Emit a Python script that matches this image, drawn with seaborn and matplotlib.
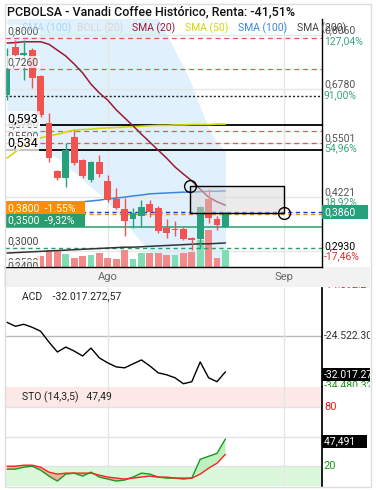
import numpy as np
import pandas as pd
import matplotlib
matplotlib.use("Agg")
import matplotlib.pyplot as plt
import seaborn as sns
from matplotlib.patches import Rectangle
from matplotlib.transforms import offset_copy

# ---------------- data ----------------
opens  = [0.664, 0.779, 0.760, 0.771, 0.710, 0.598, 0.483, 0.467, 0.564, 0.510, 0.462, 0.505, 0.460, 0.417,
          0.393, 0.369, 0.376, 0.405, 0.395, 0.348, 0.345, 0.345, 0.324, 0.321, 0.417, 0.369, 0.350]
highs  = [0.776, 0.795, 0.795, 0.775, 0.712, 0.621, 0.486, 0.550, 0.581, 0.512, 0.507, 0.521, 0.474, 0.443,
          0.419, 0.395, 0.414, 0.414, 0.400, 0.369, 0.364, 0.350, 0.326, 0.400, 0.441, 0.376, 0.386]
lows   = [0.652, 0.758, 0.700, 0.681, 0.612, 0.505, 0.462, 0.445, 0.498, 0.466, 0.457, 0.470, 0.410, 0.393,
          0.329, 0.348, 0.350, 0.374, 0.336, 0.324, 0.329, 0.319, 0.295, 0.300, 0.360, 0.343, 0.350]
closes = [0.724, 0.760, 0.764, 0.705, 0.617, 0.514, 0.467, 0.533, 0.502, 0.471, 0.505, 0.476, 0.414, 0.395,
          0.364, 0.383, 0.398, 0.386, 0.340, 0.336, 0.344, 0.321, 0.320, 0.398, 0.372, 0.355, 0.386]
volume = [80000, 60000, 70000, 60000, 110000, 170000, 170000, 130000, 90000, 110000, 120000, 140000, 90000,
          80000, 170000, 80000, 140000, 140000, 140000, 120000, 120000, 140000, 150000, 270000, 370000,
          90000, 170000]
volume_up = [1, 0, 1, 0, 0, 0, 0, 1, 0, 0, 1, 0, 0, 0, 0, 1, 1, 0, 0, 0, 1, 0, 0, 1, 0, 0, 1]

sma20  = [0.788, 0.789, 0.791, 0.791, 0.791, 0.785, 0.771, 0.757, 0.738, 0.717, 0.690, 0.669, 0.652, 0.629,
          0.610, 0.591, 0.571, 0.552, 0.533, 0.514, 0.493, 0.476, 0.460, 0.440, 0.421, 0.410, 0.402]
sma50  = [0.514, 0.529, 0.543, 0.552, 0.562, 0.567, 0.571, 0.576, 0.581, 0.582, 0.583, 0.585, 0.586, 0.587,
          0.588, 0.589, 0.590, 0.591, 0.592, 0.592, 0.593, 0.593, 0.594, 0.594, 0.594, 0.595, 0.595]
sma100 = [0.395, 0.396, 0.398, 0.399, 0.400, 0.402, 0.405, 0.407, 0.408, 0.410, 0.412, 0.414, 0.417, 0.419,
          0.421, 0.424, 0.426, 0.429, 0.430, 0.431, 0.432, 0.433, 0.433, 0.434, 0.435, 0.435, 0.436]
sma200 = [0.288, 0.289, 0.290, 0.291, 0.292, 0.293, 0.294, 0.295, 0.296, 0.297, 0.298, 0.299, 0.300, 0.301,
          0.302, 0.302, 0.303, 0.304, 0.305, 0.306, 0.307, 0.308, 0.309, 0.310, 0.310, 0.311, 0.312]
boll_upper = [0.93, 0.93, 0.93, 0.93, 0.93, 0.93, 0.93, 0.93, 0.93, 0.93, 0.93, 0.93, 0.93, 0.925,
              0.92, 0.91, 0.895, 0.875, 0.845, 0.81, 0.77, 0.731, 0.688, 0.636, 0.585, 0.550, 0.533]
boll_lower = [0.557, 0.552, 0.548, 0.543, 0.533, 0.526, 0.514, 0.498, 0.481, 0.462, 0.445, 0.429, 0.410,
              0.386, 0.362, 0.338, 0.314, 0.291, 0.267, 0.243, 0.224, 0.220, 0.215, 0.210, 0.210, 0.210, 0.210]

acd = [-21.61e6, -22.44e6, -22.02e6, -22.65e6, -23.48e6, -25.77e6, -27.85e6, -26.81e6, -27.65e6, -28.69e6,
       -27.02e6, -29.10e6, -30.14e6, -30.98e6, -31.18e6, -30.35e6, -29.52e6, -30.77e6, -32.23e6, -32.64e6,
       -33.27e6, -34.52e6, -34.10e6, -29.94e6, -33.27e6, -34.10e6, -32.017e6]
sto_k = [17, 17, 19, 20, 16, 10, 5, 12, 13, 10, 14, 9, 7, 5, 6, 9, 13, 12, 9, 8, 8, 7, 8, 27, 30, 33, 47.49]
sto_d = [20, 20, 21, 21, 19, 14, 12, 13, 13, 13, 13, 11, 9, 8, 7, 8, 9, 10, 9, 9, 8, 8, 8, 12, 18, 23, 32]

date_ticks = [12.0, 33.0]
date_labels = ["Ago", "Sep"]
price_ticks = [0.806, 0.678, 0.5501, 0.4221, 0.293]
price_tick_labels = ["0,8060", "0,6780", "0,5501", "0,4221", "0,2930"]
pct_labels = ["127,04%", "91,00%", "54,96%", "18,92%", "-17,46%"]

red_levels = [0.800, 0.726, 0.578, 0.550]
red_level_labels = ["0,8000", "0,7260", "0,5780", "0,5500"]
black_levels = [0.593, 0.534]
black_level_labels = ["0,593", "0,534"]
dotted_level = 0.661
last_price = 0.386
orange_level, orange_text = 0.380, "0,3800  -1.55%"
green_level, green_text = 0.350, "0,3500  -9,32%"
green_dash_level, green_dash_text = 0.300, "0,3000"
low_levels = [0.250, 0.240]
low_level_labels = ["0,2500", "0,2400"]
box_x = [21.8, 33.0]
box_y = [0.4476, 0.3833]

acd_ticks = [-14.3922e6, -24.5223e6, -34.4803e6]
acd_tick_labels = ["-14.392.24", "-24.522.30", "-34.480.32"]
acd_tick_colors = ["#e02020", "#333333", "#1a9a1a"]

# ---------------- style ----------------
W, H = 376, 490
sns.set_theme(style="white")
plt.rcParams['font.family'] = ['Roboto', 'DejaVu Sans']

C_UP, C_DN = "#26a17b", "#f05350"
V_UP, V_DN = "#7fdcb3", "#f28a8a"
GRID = "#e6e6e6"

fig = plt.figure(figsize=(W / 100, H / 100), dpi=100, facecolor="white")


def px_axes(x0, y0, x1, y1, z):
    a = fig.add_axes([x0 / W, 1 - y1 / H, (x1 - x0) / W, (y1 - y0) / H], zorder=z)
    a.patch.set_alpha(0)
    return a


def ytr(a, dy_px, dx_px=0):
    # positive dy_px moves down in the image
    return offset_copy(a.get_yaxis_transform(), fig=fig, x=dx_px, y=-dy_px, units="dots")


idx = np.arange(len(closes))
XL = (-0.238, 37.5)
YL = (0.2548, 0.8452)

# ---- main price panel: background layer, volume layer, front layer
ax_bg = px_axes(5, 19, 322, 267, 0)
axv = px_axes(5, 19, 322, 267, 1)
ax = px_axes(5, 19, 322, 267, 2)
for a in (ax_bg, axv, ax):
    a.set_xlim(*XL)
for a in (ax_bg, ax):
    a.set_ylim(*YL)
ax_bg.axis("off")
axv.axis("off")

ax_bg.fill_between(idx, boll_lower, boll_upper, color="#e0f0fc", lw=0, zorder=0)
for p in price_ticks:
    ax_bg.axhline(p, color=GRID, lw=1, zorder=1)
for d in date_ticks:
    ax_bg.axvline(d, color=GRID, lw=1, zorder=1)

axv.set_ylim(0, 2.48e6)
axv.bar(idx, volume, width=0.8, color=[V_UP if u else V_DN for u in volume_up], lw=0)

# levels
for p in red_levels:
    ax.axhline(p, color="#e8554e", lw=0.9, ls=(0, (4, 3)), zorder=1)
ax.axhline(dotted_level, color="#222222", lw=1, ls=(0, (1.5, 1.5)), zorder=1)
for p in black_levels:
    ax.axhline(p, color="black", lw=1.3, zorder=1)
ax.axhline(last_price, color="#1733e0", lw=1, ls=(0, (3, 2.5)), zorder=1)
ax.axhline(orange_level, color="#f08a10", lw=1, ls=(0, (3, 2.5)), zorder=1)
ax.axhline(green_level, color="#2a9d6e", lw=1.1, zorder=1)
ax.axhline(green_dash_level, color="#2a9d6e", lw=1, ls=(0, (3, 2.5)), zorder=1)

# moving averages
sns.lineplot(x=idx, y=sma50, ax=ax, color="#d6d60c", lw=1.2, zorder=2)
sns.lineplot(x=idx, y=sma100, ax=ax, color="#3b86d9", lw=1.1, zorder=2)
sns.lineplot(x=idx, y=sma200, ax=ax, color="#333333", lw=1.1, zorder=2)
sns.lineplot(x=idx, y=sma20, ax=ax, color="#9b1b30", lw=1.1, zorder=2)

# candles
for i in idx:
    o, h, l, c = opens[i], highs[i], lows[i], closes[i]
    col = C_UP if c >= o else C_DN
    ax.vlines(i, l, h, color=col, lw=1, zorder=3)
    ax.bar(i, max(abs(c - o), 0.0015), bottom=min(o, c), width=0.8, color=col, lw=0, zorder=4)

# drawing: rectangle and circles
ax.add_patch(Rectangle((box_x[0], box_y[1]), box_x[1] - box_x[0], box_y[0] - box_y[1],
                       facecolor="#d9d9d9", alpha=0.5, edgecolor="none", zorder=5))
ax.add_patch(Rectangle((box_x[0], box_y[1]), box_x[1] - box_x[0], box_y[0] - box_y[1],
                       facecolor="none", edgecolor="black", lw=1, zorder=6))
ax.plot(box_x, box_y, ls="none", marker="o", ms=8.5, mfc="none", mec="black", mew=1, zorder=7)

for s in ("top", "left"):
    ax.spines[s].set_visible(False)
for s in ("right", "bottom"):
    ax.spines[s].set_visible(True)
    ax.spines[s].set_color("black")
    ax.spines[s].set_linewidth(1)
ax.set_yticks([])
ax.set_xticks(date_ticks, date_labels)
ax.tick_params(axis="x", length=0, pad=3.5, labelsize=8, labelcolor="#666666")
ax.set_xlabel("")
ax.set_ylabel("")

# right axis labels
for p, lab, pct in zip(price_ticks, price_tick_labels, pct_labels):
    is_last = lab == "0,2930"
    ax.text(1.006, p, lab, transform=ytr(ax, -5), va="center", ha="left", fontsize=7.5,
            color="black" if is_last else "#555555", clip_on=False)
    ax.text(1.006, p, pct, transform=ytr(ax, 5.5), va="center", ha="left", fontsize=7.5,
            color="#e03030" if pct.startswith("-") else "#3aa67a", clip_on=False)
ax.add_patch(Rectangle((1.0, last_price - 0.0167), 0.145, 0.0334, transform=ax.get_yaxis_transform(),
                       facecolor=C_UP, edgecolor="none", clip_on=False, zorder=8))
ax.text(1.008, last_price, "0,3860", transform=ax.get_yaxis_transform(), va="center", ha="left",
        fontsize=7.5, color="white", clip_on=False, zorder=9)

# left level labels
lbl_bbox = dict(facecolor="white", alpha=0.75, edgecolor="none", pad=0.8)
for p, lab in zip(red_levels, red_level_labels):
    ax.text(0.008, p, lab, transform=ytr(ax, -7), va="center", ha="left", fontsize=7.5,
            color="#555555", bbox=lbl_bbox, zorder=8)
for p, lab in zip(black_levels, black_level_labels):
    ax.text(0.008, p, lab, transform=ytr(ax, -6), va="center", ha="left", fontsize=9,
            color="black", bbox=lbl_bbox, zorder=8)
ax.text(0.008, green_dash_level, green_dash_text, transform=ytr(ax, -7), va="center", ha="left",
        fontsize=7.5, color="#444444", bbox=lbl_bbox, zorder=8)
for p, lab in zip(low_levels, low_level_labels):
    ax.text(0.008, p, lab, transform=ytr(ax, -7), va="center", ha="left", fontsize=7.5,
            color="#555555", bbox=lbl_bbox, zorder=8, clip_on=True)

for lvl, txt, col in ((orange_level, orange_text, "#ff8c00"), (green_level, green_text, "#2a9d6e")):
    ax.add_patch(Rectangle((0, lvl), 0.252, 0.031, transform=ax.get_yaxis_transform(),
                           facecolor=col, edgecolor="none", zorder=8))
    ax.text(0.008, lvl + 0.0155, txt, transform=ax.get_yaxis_transform(), va="center", ha="left",
            fontsize=7.5, color="white", zorder=9)

# ---- ACD panel
axa = px_axes(5, 288, 322, 387, 2)
axa.set_xlim(*XL)
axa.set_ylim(-35.21e6, -14.39e6)
axa.axhline(acd_ticks[1], color="#bbbbbb", lw=1)
for d in date_ticks:
    axa.axvline(d, color=GRID, lw=1)
sns.lineplot(x=idx, y=acd, ax=axa, color="black", lw=1)
axa.set_xticks([])
axa.set_yticks([])
axa.set_xlabel("")
axa.set_ylabel("")
for s in ("top", "left", "bottom"):
    axa.spines[s].set_visible(False)
axa.spines["right"].set_visible(True)
axa.spines["right"].set_color("black")

clip_r = Rectangle((322 / W, 1 - 387 / H), 48 / W, 100 / H, transform=fig.transFigure)
for v, lab, col in zip(acd_ticks, acd_tick_labels, acd_tick_colors):
    t = axa.text(1.006, v, lab, transform=ytr(axa, -3 if v == acd_ticks[0] else (2 if v == acd_ticks[2] else 0)),
                 va="center", ha="left", fontsize=7.5, color=col, clip_on=True)
    t.set_clip_path(clip_r)
t = axa.text(1.006, acd[-1], "-32.017.272", transform=ytr(axa, 3), va="center", ha="left", fontsize=7.5,
             color="white", clip_on=True, bbox=dict(facecolor="black", edgecolor="none", pad=1.2), zorder=9)
t.set_clip_path(clip_r)
axa.text(0.055, 0.92, "ACD    -32.017.272,57", transform=axa.transAxes, va="center", ha="left",
         fontsize=7.5, color="#222222")

# ---- STO panel
axs = px_axes(5, 387, 322, 486, 2)
axs.set_xlim(*XL)
axs.set_ylim(0, 100)
axs.axhspan(80, 100, color="#fde8e8", lw=0, zorder=0)
axs.axhspan(0, 20, color="#dcf8dc", lw=0, zorder=0)
for g in (80, 50, 20):
    axs.axhline(g, color="#e2e2e2", lw=1, zorder=0.5)
for d in date_ticks:
    axs.axvline(d, color=GRID, lw=1, zorder=0.5)
k = np.array(sto_k, dtype=float)
dd = np.array(sto_d, dtype=float)
axs.fill_between(idx, k, dd, where=k >= dd, interpolate=True, color="#bff0bf", lw=0, zorder=1)
axs.fill_between(idx, k, dd, where=k < dd, interpolate=True, color="#e2b9a0", lw=0, zorder=1)
sns.lineplot(x=idx, y=sto_k, ax=axs, color="#1f961f", lw=1, zorder=2)
sns.lineplot(x=idx, y=sto_d, ax=axs, color="#ff2020", lw=1, zorder=2)
axs.set_xticks([])
axs.set_yticks([])
axs.set_xlabel("")
axs.set_ylabel("")
for s in ("top", "left", "bottom"):
    axs.spines[s].set_visible(False)
axs.spines["right"].set_visible(True)
axs.spines["right"].set_color("black")
axs.text(1.006, 80, "80", transform=axs.get_yaxis_transform(), va="center", ha="left", fontsize=8,
         color="#e02020", clip_on=False)
axs.text(1.006, 20, "20", transform=axs.get_yaxis_transform(), va="center", ha="left", fontsize=8,
         color="#1a9a1a", clip_on=False)
axs.text(1.006, sto_k[-1], "47,491    ", transform=ytr(axs, 2.5), va="center", ha="left", fontsize=7.5,
         color="white", clip_on=False, bbox=dict(facecolor="black", edgecolor="none", pad=1.2))
axs.text(0.055, 0.9, "STO (14,3,5)   47,49", transform=axs.transAxes, va="center", ha="left",
         fontsize=7.5, color="#222222")

# ---- overlay: title, legend, frame, date band
axo = fig.add_axes([0, 0, 1, 1], zorder=10)
axo.set_xlim(0, W)
axo.set_ylim(H, 0)
axo.axis("off")
axo.patch.set_alpha(0)
axo.text(7, 12, "PCBOLSA - Vanadi Coffee Histórico, Renta: -41,51%", fontsize=9, fontweight="medium",
         color="#111111", va="center", ha="left")
legend_items = [("SMA (100)", "#a8d4f5", 22), ("BOLL (20)", "#d6d6d6", 77), ("SMA (20)", "#a0192f", 132),
                ("SMA (50)", "#d4d40a", 185), ("SMA (100)", "#3b86d9", 238), ("SMA (200)", "#444444", 297)]
for txt, col, x in legend_items:
    axo.text(x, 28, txt, fontsize=7.5, color=col, va="center", ha="left")

fig.patches.append(Rectangle((4 / W, 1 - 287 / H), 366 / W, 20 / H, transform=fig.transFigure,
                             facecolor="#f2f2f2", edgecolor="none", zorder=-1))
axo.add_patch(Rectangle((4.5, 4), 366, 483, facecolor="none", edgecolor="#dddddd", lw=1))

fig.savefig("out.png", dpi=100, facecolor="white")
